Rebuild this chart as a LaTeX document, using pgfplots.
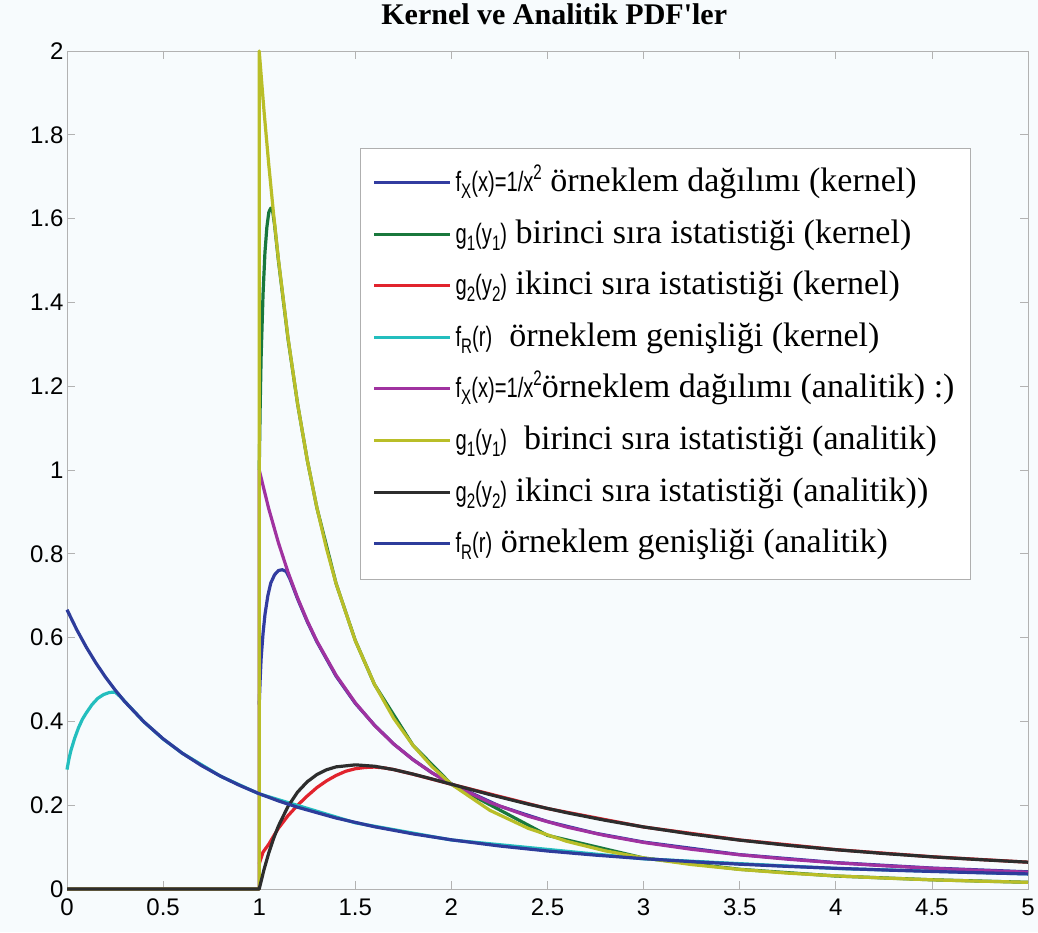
\documentclass[border=0pt]{standalone}
\usepackage{fontspec}
\setmainfont{Liberation Serif}
\newfontfamily\hv{Liberation Sans}
\newfontfamily\tfont{Liberation Serif}
\usepackage{graphicx}
\usepackage{pgfplots}
\pgfplotsset{compat=1.18}
\definecolor{bgc}{RGB}{247,251,253}
\definecolor{kblue}{RGB}{50,60,160}
\definecolor{kgreen}{RGB}{25,120,60}
\definecolor{kred}{RGB}{225,35,45}
\definecolor{kcyan}{RGB}{35,190,190}
\definecolor{amag}{RGB}{160,50,160}
\definecolor{ayel}{RGB}{185,190,40}
\definecolor{ablk}{RGB}{45,45,45}
\definecolor{ablue}{RGB}{45,60,155}
\newcommand\sfm[1]{\scalebox{0.72}[1]{\hv\fontsize{28}{28}\selectfont #1}}
\newcommand\lo[1]{\raisebox{-7pt}{\fontsize{21}{21}\selectfont #1}}
\newcommand\hi[1]{\raisebox{12pt}{\fontsize{21}{21}\selectfont #1}}
\begin{document}
\begin{tikzpicture}
\fill[bgc] (-67pt,-43pt) rectangle (971pt,889pt);
\begin{axis}[
  at={(0,0)}, anchor=south west,
  scale only axis, width=961pt, height=838pt,
  xmin=0, xmax=5, ymin=0, ymax=2,
  xtick={0,0.5,...,5}, ytick={0,0.2,...,2},
  clip=false,
  axis background/.style={fill=bgc},
  axis line style={draw=gray!60, line width=0.8pt},
  tick style={draw=gray!60, line width=0.8pt},
  major tick length=8pt,
  /pgf/number format/assume math mode=true,
  ticklabel style={font=\hv\fontsize{24}{24}\selectfont},
  xticklabel style={yshift=-6pt},
  title={Kernel ve Analitik PDF'ler},
  title style={font=\tfont\bfseries\fontsize{30}{30}\selectfont, at={(0.507,1)}, anchor=base, yshift=20pt},
  legend cell align=left,
  legend image code/.code={\draw[#1, line width=3pt] (0pt,1pt) -- (76pt,1pt);},
  legend style={at={(0.305,0.884)}, anchor=north west, draw={rgb,255:red,175;green,175;blue,175}, line width=1pt, fill=white,
    inner xsep=12pt, inner ysep=9pt, row sep=0pt,
    font=\fontsize{34}{40}\selectfont,
    nodes={inner xsep=4pt, inner ysep=0pt, text height=33.8pt, text depth=17.8pt}},
  every axis plot/.append style={line width=3.2pt, line join=round},
]
% kernel estimates
\addplot[kblue] coordinates {(1.000,0.440)(1.005,0.500)(1.010,0.550)(1.020,0.610)(1.030,0.655)(1.045,0.700)(1.060,0.730)(1.080,0.750)(1.100,0.760)(1.120,0.762)(1.140,0.758)(1.160,0.740)(1.200,0.692)(1.250,0.638)(1.300,0.590)(1.400,0.508)(1.500,0.443)(1.600,0.391)(1.700,0.346)(1.800,0.309)(1.900,0.277)(2.000,0.251)(2.250,0.198)(2.500,0.161)(2.750,0.133)(3.000,0.112)(3.500,0.082)(4.000,0.063)(4.500,0.050)(5.000,0.041)};
\addlegendentry{\sfm{f\lo{X}(x)=1/x\hi{2}} örneklem dağılımı (kernel)}
\addplot[kgreen] coordinates {(1.000,1.000)(1.005,1.150)(1.010,1.270)(1.020,1.420)(1.030,1.520)(1.040,1.580)(1.050,1.615)(1.060,1.625)(1.070,1.618)(1.080,1.585)(1.100,1.500)(1.150,1.313)(1.200,1.157)(1.250,1.024)(1.300,0.910)(1.400,0.729)(1.500,0.593)(1.600,0.488)(1.800,0.343)(2.000,0.250)(2.500,0.128)(3.000,0.074)(3.500,0.047)(4.000,0.031)(4.500,0.022)(5.000,0.016)};
\addlegendentry{\sfm{g\lo{1}(y\lo{1})} birinci sıra istatistiği (kernel)}
\addplot[kred] coordinates {(1.000,0.060)(1.020,0.088)(1.050,0.107)(1.080,0.130)(1.100,0.145)(1.150,0.175)(1.200,0.200)(1.250,0.222)(1.300,0.242)(1.350,0.258)(1.400,0.271)(1.450,0.281)(1.500,0.287)(1.550,0.290)(1.600,0.291)(1.650,0.289)(1.700,0.285)(1.800,0.274)(1.900,0.262)(2.000,0.250)(2.500,0.192)(3.000,0.148)(3.500,0.117)(4.000,0.094)(4.500,0.077)(5.000,0.064)};
\addlegendentry{\sfm{g\lo{2}(y\lo{2})} ikinci sıra istatistiği (kernel)}
\addplot[kcyan] coordinates {(0.000,0.285)(0.010,0.310)(0.020,0.330)(0.040,0.360)(0.060,0.385)(0.080,0.405)(0.100,0.420)(0.130,0.440)(0.160,0.455)(0.190,0.464)(0.220,0.469)(0.250,0.470)(0.280,0.458)(0.300,0.448)(0.400,0.399)(0.500,0.358)(0.600,0.324)(0.800,0.269)(1.000,0.227)(1.500,0.158)(2.000,0.117)(3.000,0.072)(4.000,0.049)(5.000,0.036)};
\addlegendentry{\sfm{f\lo{R}(r)}\ \ örneklem genişliği (kernel)}
% analytic densities
\addplot[amag] coordinates {(0,0)(1,0)(1,1)(1.05,0.907)(1.1,0.8264)(1.15,0.7561)(1.2,0.6944)(1.25,0.64)(1.3,0.5917)(1.4,0.5102)(1.5,0.4444)(1.6,0.3906)(1.7,0.3460)(1.8,0.3086)(1.9,0.2770)(2,0.25)(2.2,0.2066)(2.4,0.1736)(2.6,0.1479)(2.8,0.1276)(3,0.1111)(3.25,0.0947)(3.5,0.0816)(3.75,0.0711)(4,0.0625)(4.25,0.0554)(4.5,0.0494)(4.75,0.0443)(5,0.04)};
\addlegendentry{\sfm{f\lo{X}(x)=1/x\hi{2}}örneklem dağılımı (analitik) :)}
\addplot[ayel] coordinates {(0,0)(1,0)(1,2)(1.025,1.8572)(1.05,1.7277)(1.075,1.6099)(1.1,1.5026)(1.15,1.3150)(1.2,1.1574)(1.25,1.024)(1.3,0.9103)(1.35,0.8129)(1.4,0.7289)(1.5,0.5926)(1.6,0.4883)(1.7,0.4071)(1.8,0.3429)(1.9,0.2916)(2,0.25)(2.2,0.1878)(2.4,0.1447)(2.6,0.1138)(2.8,0.0911)(3,0.0741)(3.25,0.0583)(3.5,0.0466)(3.75,0.0379)(4,0.0313)(4.25,0.0261)(4.5,0.0219)(4.75,0.0187)(5,0.016)};
\addlegendentry{\sfm{g\lo{1}(y\lo{1})}\ \ birinci sıra istatistiği (analitik)}
\addplot[ablk] coordinates {(0,0)(1,0)(1.025,0.0464)(1.05,0.0864)(1.075,0.1207)(1.1,0.1503)(1.15,0.1973)(1.2,0.2315)(1.25,0.256)(1.3,0.2731)(1.35,0.2845)(1.4,0.2915)(1.5,0.2963)(1.6,0.2930)(1.7,0.2850)(1.8,0.2743)(1.9,0.2624)(2,0.25)(2.2,0.2254)(2.4,0.2025)(2.6,0.1821)(2.8,0.1640)(3,0.1481)(3.25,0.1311)(3.5,0.1166)(3.75,0.1043)(4,0.0938)(4.25,0.0847)(4.5,0.0768)(4.75,0.0700)(5,0.064)};
\addlegendentry{\sfm{g\lo{2}(y\lo{2})} ikinci sıra istatistiği (analitik))}
\addplot[ablue] coordinates {(0,0.6667)(0.05,0.6195)(0.1,0.5775)(0.15,0.5398)(0.2,0.5059)(0.25,0.4753)(0.3,0.4475)(0.4,0.3991)(0.5,0.3585)(0.6,0.3240)(0.7,0.2945)(0.8,0.2690)(0.9,0.2469)(1,0.2274)(1.1,0.2103)(1.2,0.1951)(1.4,0.1694)(1.6,0.1486)(1.8,0.1316)(2,0.1174)(2.25,0.1027)(2.5,0.0907)(2.75,0.0808)(3,0.0724)(3.25,0.0653)(3.5,0.0592)(3.75,0.0540)(4,0.0494)(4.25,0.0454)(4.5,0.0419)(4.75,0.0388)(5,0.0360)};
\addlegendentry{\sfm{f\lo{R}(r)} örneklem genişliği (analitik)}
\end{axis}
\pgfresetboundingbox
\path[use as bounding box] (-67pt,-43pt) rectangle (971pt,889pt);
\end{tikzpicture}
\end{document}
